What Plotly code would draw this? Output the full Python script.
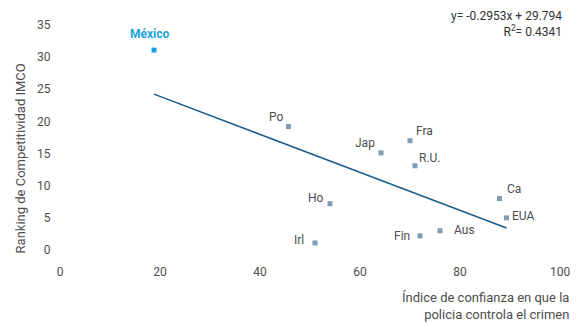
import plotly.graph_objects as go

paises = ["México", "Po", "Jap", "Fra", "R.U.", "Ho", "Ca", "EUA", "Aus", "Fin", "Irl"]
confianza = [18.8, 45.7, 64.2, 70.0, 71.0, 54.0, 87.9, 89.3, 76.0, 72.0, 51.0]
ranking = [31.1, 19.2, 15.1, 17.0, 13.1, 7.2, 8.0, 5.0, 3.0, 2.2, 1.1]
pendiente = -0.2953
intercepto = 29.794
r2 = 0.4341
x_ticks = [0, 20, 40, 60, 80, 100]
y_ticks = [0, 5, 10, 15, 20, 25, 30, 35]

# label offsets (px): xshift, yshift, xanchor
offsets = {
    "México": (-4, 16, "center"),
    "Po": (-4, 10, "right"),
    "Jap": (-4, 10, "right"),
    "Fra": (4, 10, "left"),
    "R.U.": (2, 8, "left"),
    "Ho": (-4, 6, "right"),
    "Ca": (5, 10, "left"),
    "EUA": (3, 2, "left"),
    "Aus": (12, 1, "left"),
    "Fin": (-8, 0, "right"),
    "Irl": (-9, 3, "right"),
}

azul = "#1aa3dd"
gris = "#7f9cb4"
linea = "#1d5d8c"
texto = "#4d4d4d"
fam = "Roboto, Arial, sans-serif"

colors = [azul if p == "México" else gris for p in paises]

fig = go.Figure()
x0, x1 = min(confianza), max(confianza)
fig.add_trace(go.Scatter(x=[x0, x1], y=[pendiente * x0 + intercepto, pendiente * x1 + intercepto],
                         mode="lines", line=dict(color=linea, width=1.5), hoverinfo="skip"))
fig.add_trace(go.Scatter(x=confianza, y=ranking, mode="markers",
                         marker=dict(symbol="square", size=5, color=colors)))

for p, xv, yv in zip(paises, confianza, ranking):
    dx, dy, anc = offsets[p]
    fig.add_annotation(x=xv, y=yv, text=p, showarrow=False, xanchor=anc, yanchor="middle",
                       xshift=dx, yshift=dy,
                       font=dict(family=fam, size=12, color=azul if p == "México" else texto,
                                 weight="bold" if p == "México" else "normal"))

fig.add_annotation(xref="paper", yref="paper", x=1.008, y=0.929, xanchor="right", yanchor="bottom",
                   align="right", showarrow=False,
                   text=f"y= {pendiente}x + {intercepto}<br>R<sup>2</sup>= {r2}",
                   font=dict(family=fam, size=12, color="#333333"))

fig.add_annotation(xref="paper", yref="paper", x=1.022, y=-0.17, xanchor="right", yanchor="top",
                   align="right", showarrow=False,
                   text="Índice de confianza en que la<br>policia controla el crimen",
                   font=dict(family=fam, size=13, color=texto))

fig.add_annotation(xref="paper", yref="paper", x=-0.08, y=0.407, xanchor="center", yanchor="middle",
                   textangle=-90, showarrow=False,
                   text="Ranking de Competitividad IMCO",
                   font=dict(family=fam, size=13, color=texto))

fig.update_layout(
    width=583, height=323,
    margin=dict(l=60, r=23, t=25, b=73),
    paper_bgcolor="white", plot_bgcolor="white",
    showlegend=False,
    font=dict(family=fam, size=12, color=texto),
    xaxis=dict(range=[0, 100], tickvals=x_ticks, showgrid=False, zeroline=False, showline=False,
               ticks="outside", ticklen=11, tickcolor="rgba(0,0,0,0)"),
    yaxis=dict(range=[0, 35], tickvals=y_ticks, showgrid=False, zeroline=False, showline=False,
               ticks="outside", ticklen=6, tickcolor="rgba(0,0,0,0)"),
)

fig.write_html("out.html", config={"displayModeBar": False},
               post_script="document.body.style.margin='0';document.body.style.overflow='hidden';")
